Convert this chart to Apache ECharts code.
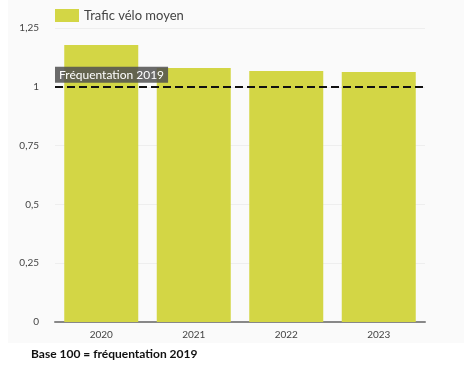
<!DOCTYPE html>
<html><head><meta charset="utf-8">
<script src="https://cdn.jsdelivr.net/npm/echarts@6/dist/echarts.min.js"></script>
<style>html,body{margin:0;padding:0;background:#fff}#c{width:464px;height:388px}</style>
</head><body><div id="c"></div>
<script>
const categories = ['2020', '2021', '2022', '2023'];
const trafic = [1.178, 1.08, 1.067, 1.063];
const yTicks = [0, 0.25, 0.5, 0.75, 1, 1.25];
const refValue = 1;
const refLabel = 'Fréquentation 2019';
const seriesName = 'Trafic vélo moyen';
const footnote = 'Base 100 = fréquentation 2019';

const chart = echarts.init(document.getElementById('c'));
const font = 'Lato, "Noto Sans", sans-serif';
chart.setOption({
  animation: false,
  textStyle: { fontFamily: font },
  graphic: [
    { type: 'rect', z: -10, shape: { x: 8, y: 0, width: 456, height: 343 }, style: { fill: '#fafafa' } },
    { type: 'text', left: 31, top: 348, style: { text: footnote, font: 'bold 12px ' + font, fill: '#111' } }
  ],
  legend: {
    left: 50, top: 4, itemWidth: 24, itemHeight: 13, itemGap: 10,
    textStyle: { fontSize: 13, color: '#444', fontFamily: font },
    data: [{ name: seriesName, icon: 'rect' }]
  },
  grid: { left: 55, right: 39, top: 28, bottom: 66, containLabel: false },
  xAxis: {
    type: 'category', data: categories,
    axisLine: { lineStyle: { color: '#888', width: 2 } },
    axisTick: { show: false },
    axisLabel: { color: '#444', fontSize: 10, margin: 8 }
  },
  yAxis: {
    type: 'value', min: 0, max: 1.25, interval: 0.25,
    axisLabel: { color: '#444', fontSize: 10, margin: 16,
      formatter: v => yTicks.includes(v) ? String(v).replace('.', ',') : '' },
    splitLine: { lineStyle: { color: '#eeeeee', width: 1 } },
    axisLine: { show: false }, axisTick: { show: false }
  },
  series: [{
    name: seriesName, type: 'bar', data: trafic, barCategoryGap: '20%',
    itemStyle: { color: '#d3d645' },
    markLine: {
      symbol: 'none', silent: true,
      lineStyle: { type: [8, 4], color: '#111', width: 2 },
      label: {
        position: 'insideStartTop', formatter: refLabel, color: '#fff', fontSize: 12,
        backgroundColor: 'rgba(80,80,80,0.85)', padding: [2, 4, 2, 4], distance: [0, 4]
      },
      data: [{ yAxis: refValue }]
    }
  }]
});
</script></body></html>
